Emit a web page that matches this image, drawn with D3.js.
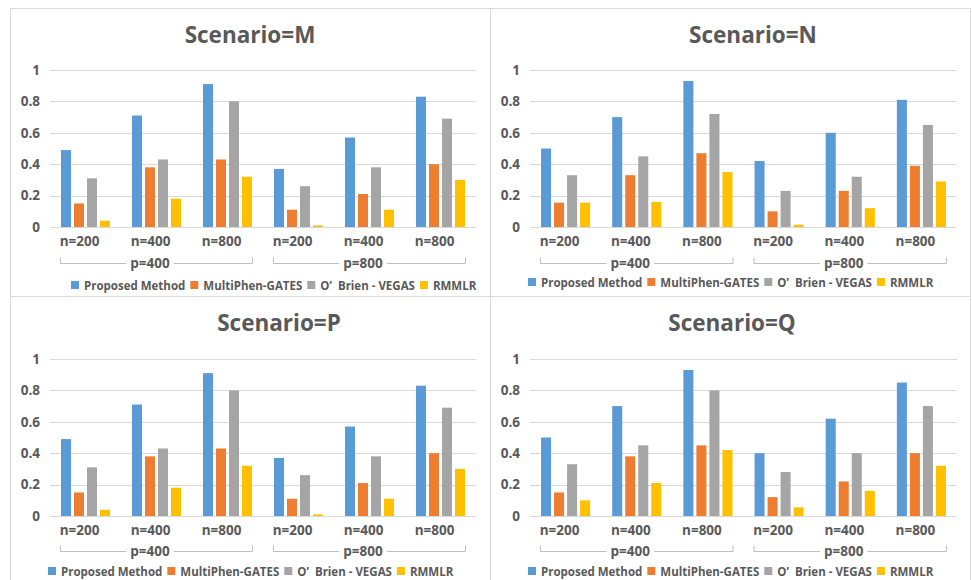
<!DOCTYPE html>
<html>
<head>
<meta charset="utf-8">
<script src="https://cdn.jsdelivr.net/npm/d3@7"></script>
<style>
  html, body { margin: 0; padding: 0; background: #fff; }
  svg { display: block; }
  text { font-family: "Open Sans", "Noto Sans", sans-serif; fill: #595959; }
</style>
</head>
<body>
<svg id="chart" width="972" height="580"></svg>
<script>
// ---------------- data ----------------
const scenarios = ["Scenario=M", "Scenario=N", "Scenario=P", "Scenario=Q"];
const nLabels = ["n=200", "n=400", "n=800", "n=200", "n=400", "n=800"];
const pLabels = ["p=400", "p=800"];
const seriesNames = ["Proposed Method", "MultiPhen-GATES", "O’  Brien - VEGAS", "RMMLR"];
const seriesColors = ["#5B9BD5", "#ED7D31", "#A5A5A5", "#FFC000"];
const yTickValues = [0, 0.2, 0.4, 0.6, 0.8, 1];
const yTickLabels = ["0", "0.2", "0.4", "0.6", "0.8", "1"];

// values per scenario: one array per series, six groups each
const proposedM = [0.49, 0.71, 0.91, 0.37, 0.57, 0.83];
const gatesM    = [0.15, 0.38, 0.43, 0.11, 0.21, 0.40];
const vegasM    = [0.31, 0.43, 0.80, 0.26, 0.38, 0.69];
const rmmlrM    = [0.04, 0.18, 0.32, 0.01, 0.11, 0.30];

const proposedN = [0.50, 0.70, 0.93, 0.42, 0.60, 0.81];
const gatesN    = [0.155, 0.33, 0.47, 0.10, 0.23, 0.39];
const vegasN    = [0.33, 0.45, 0.72, 0.23, 0.32, 0.65];
const rmmlrN    = [0.155, 0.16, 0.35, 0.015, 0.12, 0.29];

const proposedP = [0.49, 0.71, 0.91, 0.37, 0.57, 0.83];
const gatesP    = [0.15, 0.38, 0.43, 0.11, 0.21, 0.40];
const vegasP    = [0.31, 0.43, 0.80, 0.26, 0.38, 0.69];
const rmmlrP    = [0.04, 0.18, 0.32, 0.01, 0.11, 0.30];

const proposedQ = [0.50, 0.70, 0.93, 0.40, 0.62, 0.85];
const gatesQ    = [0.15, 0.38, 0.45, 0.12, 0.22, 0.40];
const vegasQ    = [0.33, 0.45, 0.80, 0.28, 0.40, 0.70];
const rmmlrQ    = [0.10, 0.21, 0.42, 0.055, 0.16, 0.32];

const scenarioValues = [
  [proposedM, gatesM, vegasM, rmmlrM],
  [proposedN, gatesN, vegasN, rmmlrN],
  [proposedP, gatesP, vegasP, rmmlrP],
  [proposedQ, gatesQ, vegasQ, rmmlrQ]
];

// ---------------- layout ----------------
const panels = [
  { px0: 50,  px1: 476, py0: 227, py1: 70,  titleX: 250, titleY: 43,  catY: 250, brY: 263, legY: 286, legX: 71 },
  { px0: 530, px1: 957, py0: 227, py1: 70,  titleX: 753, titleY: 43,  catY: 250, brY: 263, legY: 283, legX: 528 },
  { px0: 50,  px1: 476, py0: 516, py1: 359, titleX: 279, titleY: 331, catY: 539, brY: 551, legY: 572, legX: 48 },
  { px0: 530, px1: 957, py0: 516, py1: 359, titleX: 732, titleY: 331, catY: 539, brY: 551, legY: 572, legX: 528 }
];

const svg = d3.select("#chart");

// panel frames
const frame = svg.append("g").attr("fill", "none").attr("stroke", "#d9d9d9").attr("stroke-width", 1);
frame.append("line").attr("x1", 10.5).attr("x2", 10.5).attr("y1", 8).attr("y2", 580);
frame.append("line").attr("x1", 970.5).attr("x2", 970.5).attr("y1", 8).attr("y2", 580);
frame.append("line").attr("x1", 490.5).attr("x2", 490.5).attr("y1", 8).attr("y2", 580);
frame.append("line").attr("x1", 10).attr("x2", 971).attr("y1", 8.5).attr("y2", 8.5);
frame.append("line").attr("x1", 10).attr("x2", 971).attr("y1", 296.5).attr("y2", 296.5);

const labelFont = "13.5px";

scenarios.forEach((title, si) => {
  const L = panels[si];
  const g = svg.append("g");
  const vals = scenarioValues[si];

  const y = d3.scaleLinear().domain([0, 1]).range([L.py0, L.py1]);
  const groupIdx = d3.range(nLabels.length);
  const x0 = d3.scaleBand().domain(groupIdx).range([L.px0, L.px1]).paddingInner(0.31).paddingOuter(0.155);
  const x1 = d3.scaleBand().domain(d3.range(seriesNames.length)).range([0, x0.bandwidth()]).paddingInner(0.23);
  const step = x0.step();

  // title
  g.append("text").attr("x", L.titleX).attr("y", L.titleY).attr("text-anchor", "middle")
    .style("font-size", "22.5px").style("font-weight", "700").text(title);

  // gridlines
  g.append("g").selectAll("line").data(yTickValues).join("line")
    .attr("x1", L.px0).attr("x2", L.px1)
    .attr("y1", d => Math.round(y(d)) + 0.5).attr("y2", d => Math.round(y(d)) + 0.5)
    .attr("stroke", "#d9d9d9").attr("stroke-width", 1);

  // y axis labels
  const yAxis = d3.axisLeft(y).tickValues(yTickValues)
    .tickFormat((d, i) => yTickLabels[i]).tickSize(0).tickPadding(10);
  const ya = g.append("g").attr("transform", `translate(${L.px0},0)`).call(yAxis);
  ya.select(".domain").remove();
  ya.selectAll("text").style("font-size", labelFont).style("font-weight", "700")
    .style("font-family", "'Open Sans', sans-serif").attr("fill", "#595959");

  // bars
  seriesNames.forEach((name, k) => {
    g.append("g").attr("fill", seriesColors[k]).selectAll("rect").data(vals[k]).join("rect")
      .attr("x", (d, i) => x0(i) + x1(k))
      .attr("width", x1.bandwidth())
      .attr("y", d => y(d))
      .attr("height", d => y(0) - y(d));
  });

  // category labels
  const xAxis = d3.axisBottom(x0).tickFormat(i => nLabels[i]).tickSize(0).tickPadding(0);
  const xa = g.append("g").attr("transform", `translate(-6,${L.catY - 14})`).call(xAxis);
  xa.select(".domain").remove();
  xa.selectAll("text").style("font-size", labelFont).style("font-weight", "700")
    .style("font-family", "'Open Sans', sans-serif").attr("fill", "#595959");

  // p brackets
  pLabels.forEach((p, j) => {
    const gx0 = L.px0 + j * 3 * step + 10;
    const gx1 = L.px0 + (j + 1) * 3 * step - 11;
    const cx = (gx0 + gx1) / 2 - 6;
    const t = g.append("text").attr("x", cx).attr("y", L.brY + 5).attr("text-anchor", "middle")
      .style("font-size", labelFont).style("font-weight", "700").text(p);
    const w = t.node().getComputedTextLength();
    const bg = g.insert("g", "text").attr("stroke", "#bfbfbf").attr("fill", "none").attr("stroke-width", 1);
    const yy = L.brY + 0.5;
    bg.append("path").attr("d", `M${gx0 + 0.5},${yy - 6}V${yy}H${cx - w / 2 - 4}`);
    bg.append("path").attr("d", `M${cx + w / 2 + 4},${yy}H${gx1 + 0.5}V${yy - 6}`);
  });

  // legend
  let lx = L.legX;
  seriesNames.forEach((name, k) => {
    g.append("rect").attr("x", lx).attr("y", L.legY - 5).attr("width", 8).attr("height", 8)
      .attr("fill", seriesColors[k]);
    const t = g.append("text").attr("x", lx + 13).attr("y", L.legY + 4)
      .style("font-size", "11.5px").style("font-weight", "700").style("white-space", "pre").text(name);
    lx += 13 + t.node().getComputedTextLength() + 5;
  });
});
</script>
</body>
</html>
